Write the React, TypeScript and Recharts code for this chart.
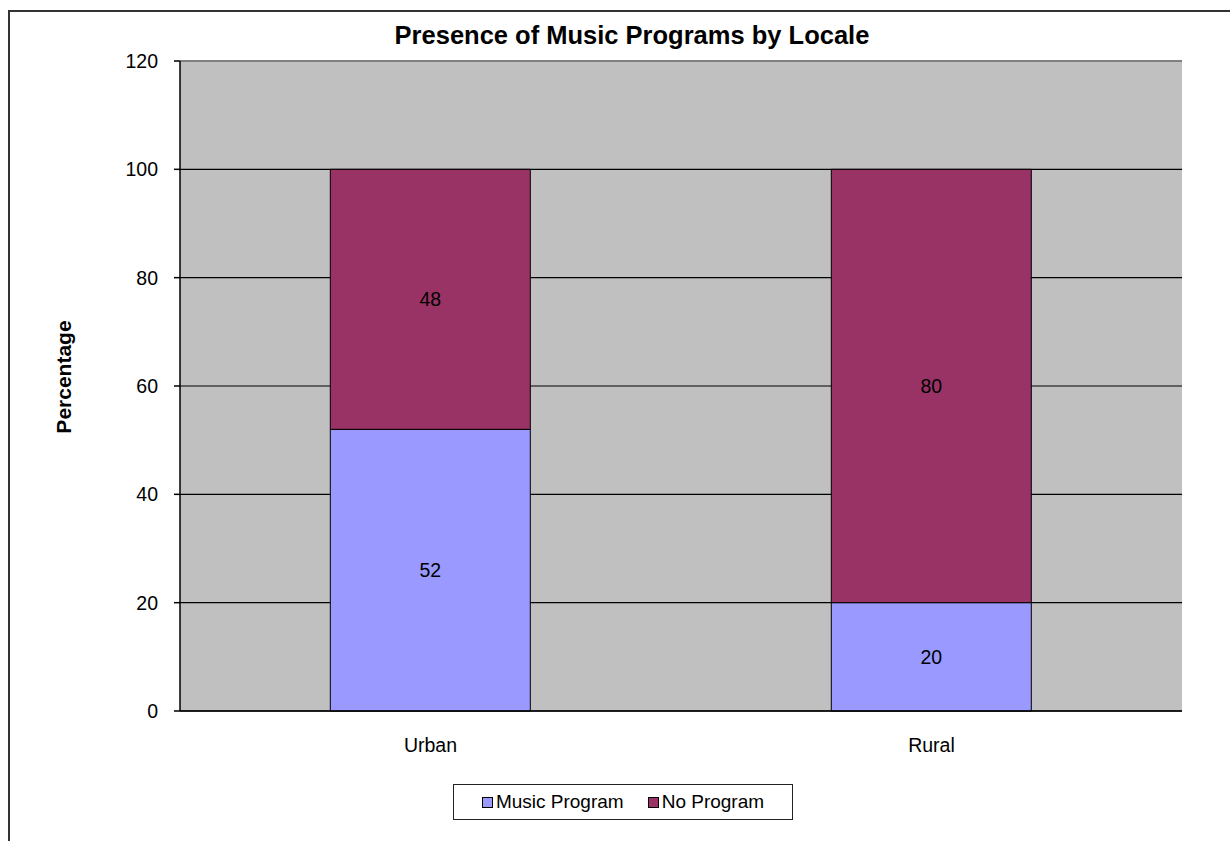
import React from 'react';
import {
  BarChart,
  Bar,
  XAxis,
  YAxis,
  CartesianGrid,
  LabelList,
  Legend,
  ReferenceLine,
} from 'recharts';

// values
const locales = ['Urban', 'Rural'];
const musicProgram = [52, 20];
const noProgram = [48, 80];
const yTicks = [0, 20, 40, 60, 80, 100, 120];
const seriesNames = ['Music Program', 'No Program'];
const seriesColors = ['#9999FF', '#993366'];

const data = locales.map((name, i) => ({
  name,
  music: musicProgram[i],
  none: noProgram[i],
}));

const FONT = '"Liberation Sans", Arial, sans-serif';

const LegendBox = () => (
  <div
    style={{
      boxSizing: 'border-box',
      width: 340,
      height: 36,
      border: '1.5px solid #222',
      background: '#fff',
      display: 'flex',
      alignItems: 'center',
      justifyContent: 'center',
      gap: 24,
      fontFamily: FONT,
      fontSize: 19,
      color: '#000',
    }}
  >
    {seriesNames.map((n, i) => (
      <div key={n} style={{ display: 'flex', alignItems: 'center' }}>
        <span
          style={{
            display: 'inline-block',
            width: 9,
            height: 9,
            border: '1px solid #000',
            background: seriesColors[i],
            marginRight: 3,
          }}
        />
        <span>{n}</span>
      </div>
    ))}
  </div>
);

const YLabel = (props: any) => {
  const { viewBox } = props;
  const x = viewBox.x - 57;
  const y = viewBox.y + viewBox.height / 2 - 9;
  return (
    <text
      x={x}
      y={y}
      transform={`rotate(-90, ${x}, ${y})`}
      textAnchor="middle"
      dominantBaseline="central"
      style={{ fontFamily: FONT, fontSize: 21, fontWeight: 'bold', fill: '#000' }}
    >
      Percentage
    </text>
  );
};

export default function App() {
  return (
    <div style={{ position: 'absolute', left: 0, top: 0, width: 1230, height: 841, background: '#fff' }}>
      <div
        style={{
          position: 'absolute',
          left: 8,
          top: 10,
          width: 1230,
          height: 841,
          borderLeft: '2px solid #333',
          borderTop: '2px solid #333',
        }}
      />
      <div
        style={{
          position: 'absolute',
          left: 332,
          top: 23,
          width: 600,
          textAlign: 'center',
          fontFamily: FONT,
          fontSize: 25.5,
          lineHeight: '25px',
          fontWeight: 'bold',
          color: '#000',
        }}
      >
        Presence of Music Programs by Locale
      </div>
      <div style={{ position: 'absolute', left: 0, top: 0 }}>
        <BarChart
          width={1230}
          height={841}
          data={data}
          margin={{ top: 61, right: 48, left: 120, bottom: 53 }}
          barCategoryGap="30%"
        >
          <CartesianGrid
            xAxisId="b"
            vertical={false}
            stroke="#000"
            strokeOpacity={1}
            strokeWidth={1.2}
            fill="#C0C0C0"
            fillOpacity={1}
          />
          <XAxis
            xAxisId="a"
            type="number"
            domain={[0, 2]}
            ticks={[0, 1, 2]}
            tick={false}
            tickSize={6}
            height={1}
            axisLine={{ stroke: '#000', strokeWidth: 1.5 }}
            tickLine={{ stroke: '#000', strokeWidth: 1.5 }}
          />
          <XAxis
            xAxisId="b"
            dataKey="name"
            height={40}
            axisLine={false}
            tickLine={false}
            tickMargin={20}
            tick={{ fill: '#000', fontSize: 19.5, fontFamily: FONT }}
          />
          <YAxis
            width={60}
            domain={[0, 120]}
            ticks={yTicks}
            interval={0}
            tickSize={6}
            tickMargin={16}
            axisLine={{ stroke: '#000', strokeWidth: 1.5 }}
            tickLine={{ stroke: '#000', strokeWidth: 1.5 }}
            tick={{ fill: '#000', fontSize: 19.5, fontFamily: FONT }}
            label={<YLabel />}
          />
          <ReferenceLine y={120} xAxisId="b" stroke="#808080" strokeWidth={2} />
          <ReferenceLine x={2} xAxisId="a" stroke="#808080" strokeWidth={2} />
          <Legend
            verticalAlign="bottom"
            height={36}
            wrapperStyle={{ top: 784, left: 453, width: 340, height: 36, bottom: 'auto' }}
            content={() => <LegendBox />}
          />
          <Bar
            xAxisId="b"
            dataKey="music"
            name={seriesNames[0]}
            stackId="a"
            fill={seriesColors[0]}
            stroke="#000"
            strokeWidth={1}
            isAnimationActive={false}
          >
            <LabelList
              dataKey="music"
              position="center"
              style={{ fill: '#000', fontSize: 19.5, fontFamily: FONT }}
            />
          </Bar>
          <Bar
            xAxisId="b"
            dataKey="none"
            name={seriesNames[1]}
            stackId="a"
            fill={seriesColors[1]}
            stroke="#000"
            strokeWidth={1}
            isAnimationActive={false}
          >
            <LabelList
              dataKey="none"
              position="center"
              style={{ fill: '#000', fontSize: 19.5, fontFamily: FONT }}
            />
          </Bar>
        </BarChart>
      </div>
    </div>
  );
}
